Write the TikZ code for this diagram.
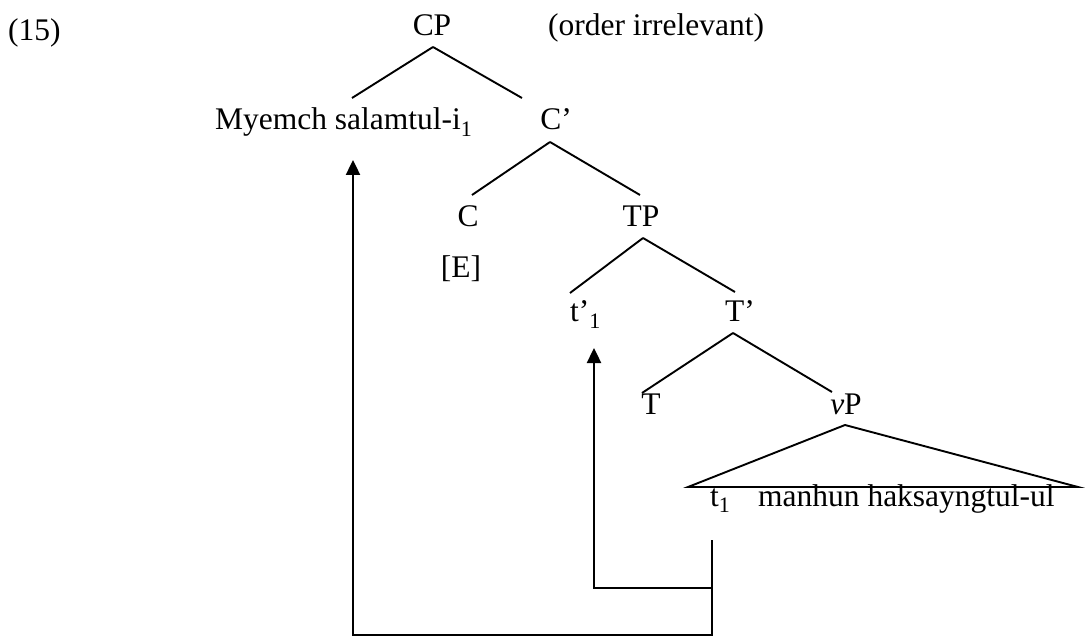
\documentclass[tikz,border=0pt]{standalone}
\usepackage{fontspec}
\setmainfont{Liberation Serif}
\usetikzlibrary{arrows.meta}
\begin{document}
\begin{tikzpicture}[x=1bp,y=-1bp,
  lab/.style={inner sep=0pt,anchor=base,font=\fontsize{31.6}{38}\selectfont},
  labw/.style={lab,anchor=base west},
  branch/.style={line width=1.9bp},
  move/.style={line width=2.4bp},
  movearrow/.style={move,-{Triangle[width=14bp,length=15bp]}}]
\useasboundingbox (0,0) rectangle (1085,637);

% labels of the tree
\node[labw] (ex)    at (8,41)    {(15)};
\node[lab]  (CP)    at (432,36)  {CP};
\node[labw] (note)  at (548,36)  {(order irrelevant)};
\node[labw] (spec)  at (215,130) {Myemch salamtul-i\textsubscript{1}};
\node[lab]  (Cbar)  at (556,130) {C’};
\node[lab]  (C)     at (468,227) {C};
\node[lab]  (E)     at (461,278) {[E]};
\node[lab]  (TP)    at (641,227) {TP};
\node[labw] (tpr)   at (570,322) {t’\textsubscript{1}};
\node[lab]  (Tbar)  at (740,322) {T’};
\node[lab]  (T)     at (651,414) {T};
\node[lab]  (vP)    at (846,414) {\textit{v}P};
\node[labw] (t1)    at (710,506) {t\textsubscript{1}};
\node[labw] (obj)   at (758,506) {manhun haksayngtul-ul};

% branches
\draw[branch] ([shift={(1,11)}]CP.base) -- ([shift={(137,-32)}]spec.base west);
\draw[branch] ([shift={(1,11)}]CP.base) -- ([shift={(-34,-32)}]Cbar.base);
\draw[branch] ([shift={(-6,12)}]Cbar.base) -- ([shift={(4,-32)}]C.base);
\draw[branch] ([shift={(-6,12)}]Cbar.base) -- ([shift={(-1,-32)}]TP.base);
\draw[branch] ([shift={(2,11)}]TP.base) -- ([shift={(0,-29)}]tpr.base west);
\draw[branch] ([shift={(2,11)}]TP.base) -- ([shift={(-5,-30)}]Tbar.base);
\draw[branch] ([shift={(-7,11)}]Tbar.base) -- ([shift={(-9,-21)}]T.base);
\draw[branch] ([shift={(-7,11)}]Tbar.base) -- ([shift={(-14,-22)}]vP.base);

% triangle over the vP
\draw[branch,line join=miter] ([shift={(-1,11)}]vP.base)
  -- ([shift={(-22,-19)}]t1.base west) -- ([shift={(320,-19)}]obj.base west) -- cycle;

% movement paths
\coordinate (fork) at ([shift={(2,82)}]t1.base west);
\draw[movearrow] ([shift={(2,34)}]t1.base west) -- (fork)
  -| ([shift={(24,26)}]tpr.base west);
\draw[movearrow] (fork) -- ([shift={(2,129)}]t1.base west)
  -| ([shift={(138,30)}]spec.base west);
\end{tikzpicture}
\end{document}
